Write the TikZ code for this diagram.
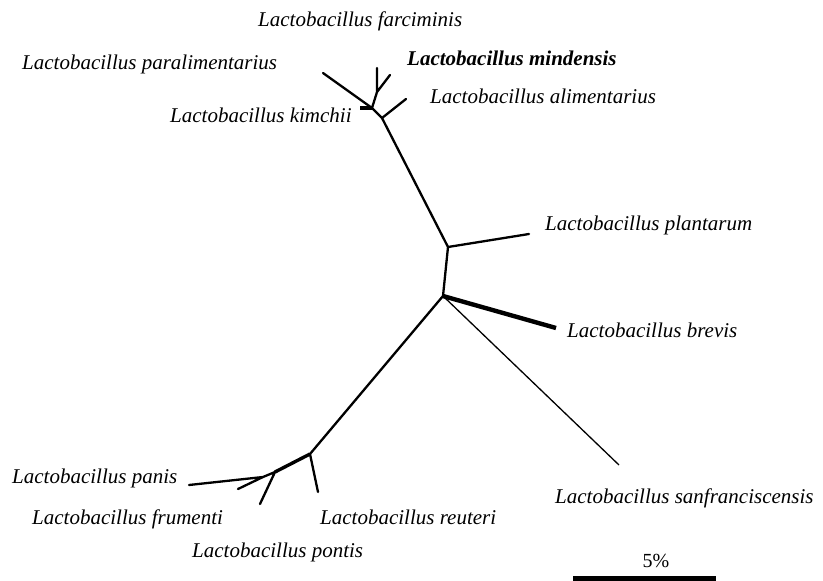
\documentclass[tikz,border=0pt]{standalone}
\usepackage{fontspec}
\setmainfont{Liberation Serif}
\tikzset{
  species/.style={anchor=base west, inner sep=0pt,
    font=\fontsize{21}{25}\selectfont\itshape},
  branch/.style={line width=2.3pt, line cap=round},
  thickbranch/.style={line width=4.4pt},
  thinbranch/.style={line width=1.3pt}
}
\begin{document}
\begin{tikzpicture}[x=1pt, y=-1pt]
  \useasboundingbox (0,0) rectangle (823,581);
  % inner nodes of the tree
  \coordinate (n1) at (382,118);
  \coordinate (n2) at (372,108);
  \coordinate (n3) at (377,92);
  \coordinate (p)  at (448,247);
  \coordinate (q)  at (443,296);
  \coordinate (b1) at (310,454);
  \coordinate (b2) at (275,472);
  \coordinate (b3) at (263,477);
  % leaves
  \coordinate (ali)  at (406,99);
  \coordinate (para) at (323,73);
  \coordinate (kim)  at (360,108);
  \coordinate (far)  at (377,68);
  \coordinate (min)  at (390,75);
  \coordinate (pla)  at (529,234);
  \coordinate (bre)  at (556,328);
  \coordinate (san)  at (619,465);
  \coordinate (reu)  at (318,492);
  \coordinate (pon)  at (260,504);
  \coordinate (pan)  at (189,485);
  \coordinate (fru)  at (238,489);
  % branches
  \draw [branch]
    (n1) -- (ali)
    (n1) -- (n2) -- (para)
    (n2) -- (n3) -- (far)
    (n3) -- (min)
    (n1) -- (p) -- (pla)
    (p) -- (q) -- (b1) -- (reu)
    (b2) -- (pon)
    (b2) -- (b3) -- (pan)
    (b3) -- (fru);
  \draw [thickbranch] (n2) -- (kim);
  \draw [thickbranch] (q) -- (bre);
  \draw [line width=3.4pt] (b1) -- (b2);
  \draw [thinbranch] (q) -- (san);
  % species names
  \node [species] (lfar) at (258,26)  {Lactobacillus farciminis};
  \node [species, font=\fontsize{21}{25}\selectfont\bfseries\itshape]
                  (lmin) at (407,65)  {Lactobacillus mindensis};
  \node [species] (lpar) at (22,69)   {Lactobacillus paralimentarius};
  \node [species] (lali) at (430,103) {Lactobacillus alimentarius};
  \node [species] (lkim) at (170,122) {Lactobacillus kimchii};
  \node [species] (lpla) at (545,230) {Lactobacillus plantarum};
  \node [species] (lbre) at (567,337) {Lactobacillus brevis};
  \node [species] (lpan) at (12,483)  {Lactobacillus panis};
  \node [species] (lsan) at (555,503) {Lactobacillus sanfranciscensis};
  \node [species] (lfru) at (32,524)  {Lactobacillus frumenti};
  \node [species] (lreu) at (320,524) {Lactobacillus reuteri};
  \node [species] (lpon) at (192,557) {Lactobacillus pontis};
  % scale bar
  \coordinate (s1) at (573,578.5);
  \coordinate (s2) at (716,578.5);
  \draw [line width=5pt] (s1) -- (s2);
  \node [anchor=base, inner sep=0pt, font=\fontsize{20}{24}\selectfont]
    (scale) at (656,567) {5\%};
\end{tikzpicture}
\end{document}
